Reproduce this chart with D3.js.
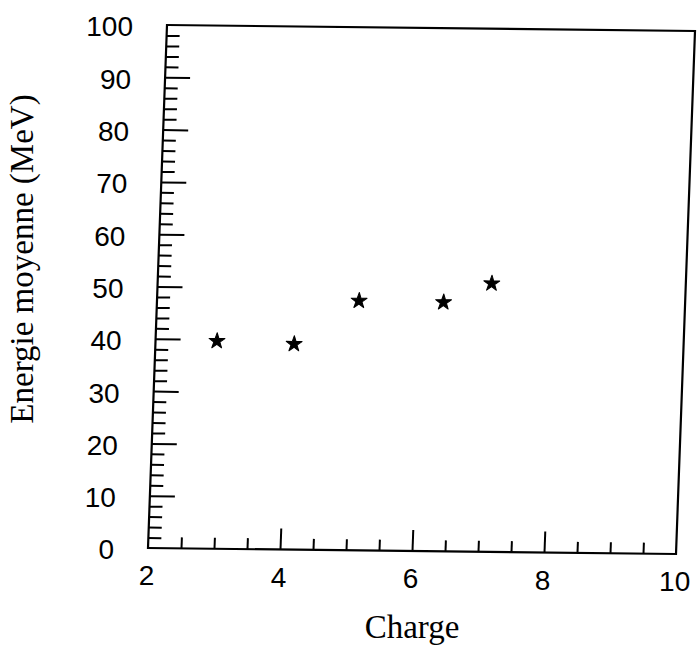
<!DOCTYPE html>
<html>
<head>
<meta charset="utf-8">
<script src="https://cdn.jsdelivr.net/npm/d3@7"></script>
<style>
  body { margin: 0; background: #fff; }
  svg { display: block; }
</style>
</head>
<body>
<svg id="chart"></svg>
<script>
// values
var charge = [2.93, 4.10, 5.06, 6.34, 7.06];
var energie = [39.7, 39.3, 47.7, 47.6, 51.3];
var xTicks = [2, 4, 6, 8, 10];
var yTicks = [0, 10, 20, 30, 40, 50, 60, 70, 80, 90, 100];

var W = 697, H = 651;
// the scanned frame is slightly skewed, so the plot sits in a sheared group
var ox = 167, oy = 25,
    width = 528, height = 523,
    shx = -19 / 523, shy = 6 / 528;

function proj(lx, ly) {
  return [ox + lx + shx * ly, oy + shy * lx + ly];
}

var svg = d3.select("#chart")
  .attr("width", W)
  .attr("height", H);

var x = d3.scaleLinear().domain([2, 10]).range([0, width]);
var y = d3.scaleLinear().domain([0, 100]).range([height, 0]);

var g = svg.append("g")
  .attr("transform", "matrix(1," + shy + "," + shx + ",1," + ox + "," + oy + ")");

var xMinor = d3.range(2, 10.01, 0.5).filter(function(v) { return xTicks.indexOf(v) < 0; });
var yMinor = d3.range(0, 100.01, 2).filter(function(v) { return yTicks.indexOf(v) < 0; });

function styleAxis(sel) {
  sel.select(".domain").remove();
  sel.selectAll("line").attr("stroke", "#000").attr("stroke-width", 2);
}

g.append("g").attr("transform", "translate(0," + height + ")")
  .call(d3.axisBottom(x).tickValues(xMinor).tickSize(-11).tickFormat(""))
  .call(styleAxis);
g.append("g").attr("transform", "translate(0," + height + ")")
  .call(d3.axisBottom(x).tickValues(xTicks.slice(1, -1)).tickSize(-21).tickFormat(""))
  .call(styleAxis);
g.append("g")
  .call(d3.axisLeft(y).tickValues(yMinor).tickSize(-13).tickFormat(""))
  .call(styleAxis);
g.append("g")
  .call(d3.axisLeft(y).tickValues(yTicks.slice(1, -1)).tickSize(-25).tickFormat(""))
  .call(styleAxis);

g.append("rect")
  .attr("width", width)
  .attr("height", height)
  .attr("fill", "none")
  .attr("stroke", "#000")
  .attr("stroke-width", 2.2);

var pts = charge.map(function(c, i) { return {c: c, e: energie[i]}; });
g.selectAll(".star")
  .data(pts)
  .enter()
  .append("path")
    .attr("class", "star")
    .attr("d", d3.symbol().type(d3.symbolStar).size(78))
    .attr("transform", function(d) { return "translate(" + x(d.c) + "," + y(d.e) + ")"; })
    .attr("fill", "#000")
    .attr("stroke", "#000")
    .attr("stroke-width", 1)
    .attr("stroke-linejoin", "round");

// tick labels, kept upright
svg.append("g").selectAll("text")
  .data(yTicks)
  .enter()
  .append("text")
    .attr("x", function(d) { return proj(-34, y(d))[0]; })
    .attr("y", function(d) { return proj(-34, y(d))[1] + 2; })
    .attr("dy", "0.35em")
    .attr("text-anchor", "end")
    .style("font-family", "'Liberation Sans', Arial, sans-serif")
    .style("font-size", "28px")
    .text(function(d) { return d; });

svg.append("g").selectAll("text")
  .data(xTicks)
  .enter()
  .append("text")
    .attr("x", function(d) { return proj(x(d), height + 37)[0]; })
    .attr("y", function(d) { return proj(x(d), height + 37)[1]; })
    .attr("text-anchor", "middle")
    .style("font-family", "'Liberation Sans', Arial, sans-serif")
    .style("font-size", "28px")
    .text(function(d) { return d; });

svg.append("text")
  .attr("x", 412)
  .attr("y", 638)
  .attr("text-anchor", "middle")
  .style("font-family", "'Liberation Serif', 'Times New Roman', serif")
  .style("font-size", "33px")
  .text("Charge");

svg.append("text")
  .attr("transform", "translate(33,259) rotate(-90)")
  .attr("text-anchor", "middle")
  .style("font-family", "'Liberation Serif', 'Times New Roman', serif")
  .style("font-size", "33px")
  .text("Energie moyenne (MeV)");
</script>
</body>
</html>
